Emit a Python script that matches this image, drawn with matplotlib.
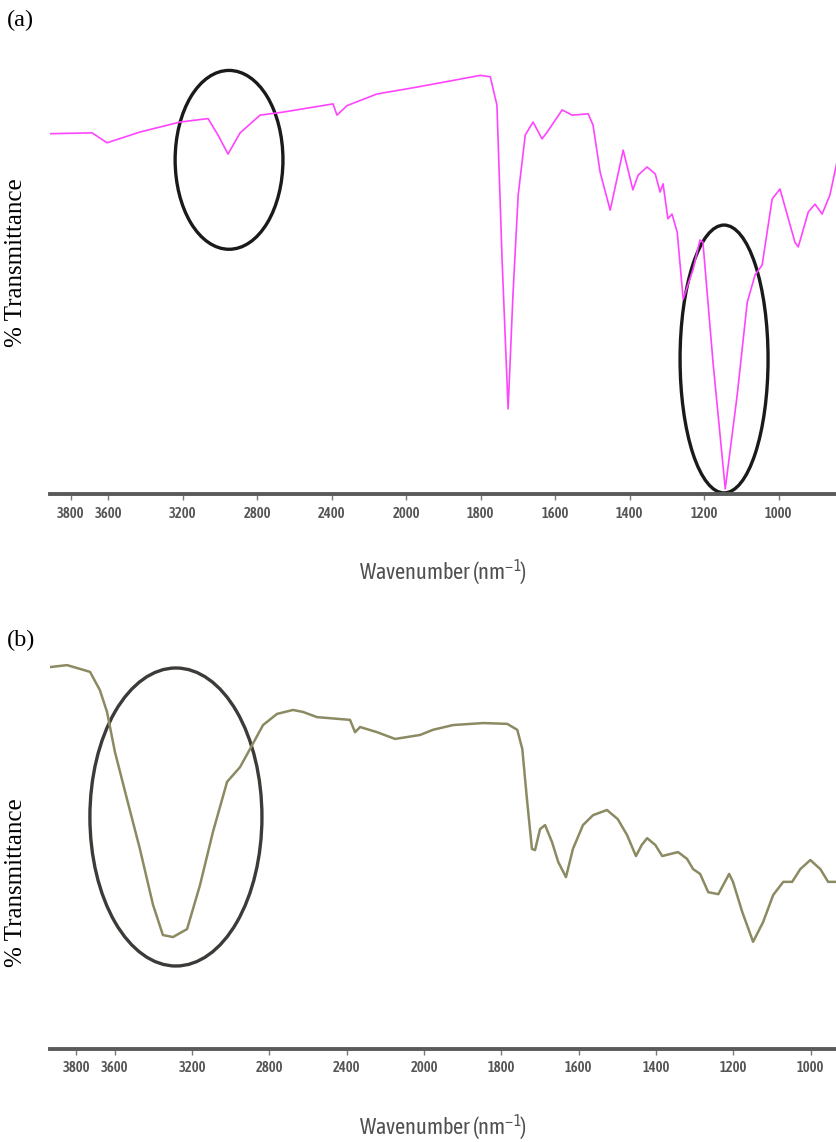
import numpy as np
import matplotlib
matplotlib.use("Agg")
import matplotlib.pyplot as plt
from matplotlib.patches import Ellipse

plt.rcParams["mathtext.fontset"] = "custom"
plt.rcParams["mathtext.rm"] = "Asap Condensed"
plt.rcParams["mathtext.it"] = "Asap Condensed"
plt.rcParams["mathtext.bf"] = "Asap Condensed"

# ---------------- data ----------------
wn_a = [3912, 3686, 3606, 3428, 3214, 3063, 3010, 2956, 2891, 2784, 2661, 2392, 2371, 2317,
        2156, 1970, 1801, 1774, 1756, 1742, 1726, 1713, 1699, 1680, 1659, 1635, 1621, 1581,
        1554, 1511, 1498, 1479, 1452, 1417, 1391, 1377, 1353, 1331, 1318, 1310, 1297, 1286,
        1272, 1256, 1229, 1211, 1203, 1176, 1143, 1111, 1084, 1063, 1044, 1017, 996, 956,
        947, 920, 902, 883, 862, 843]
t_a = [83.4, 83.6, 81.3, 83.8, 86.1, 86.9, 83.1, 78.7, 83.6, 87.7, 88.4, 90.3, 87.7, 89.9,
       92.6, 94.2, 96.9, 96.6, 90.0, 53.7, 19.7, 46.1, 69.2, 83.1, 86.1, 82.2, 83.8, 88.9,
       87.7, 88.0, 85.4, 74.5, 65.7, 79.6, 70.4, 73.8, 75.7, 74.1, 69.9, 71.8, 63.7, 64.8,
       60.6, 45.1, 52.1, 58.8, 58.3, 30.6, 1.2, 22.9, 44.4, 50.7, 53.0, 68.3, 70.6, 58.3,
       57.2, 65.3, 67.1, 64.8, 69.2, 76.9]

wn_b = [3935, 3847, 3728, 3677, 3640, 3599, 3537, 3470, 3402, 3351, 3299, 3226, 3159, 3092,
        3019, 2952, 2900, 2833, 2761, 2678, 2626, 2554, 2383, 2357, 2331, 2243, 2150, 2021,
        1977, 1925, 1847, 1785, 1759, 1746, 1734, 1721, 1713, 1700, 1687, 1669, 1653, 1633,
        1615, 1589, 1563, 1527, 1499, 1475, 1452, 1437, 1423, 1402, 1384, 1364, 1343, 1320,
        1304, 1286, 1265, 1239, 1211, 1201, 1177, 1149, 1123, 1097, 1071, 1048, 1027, 1001,
        975, 955, 932]
t_b = [96.2, 96.7, 95.0, 90.4, 84.9, 74.8, 63.0, 50.4, 36.3, 28.7, 28.2, 30.2, 41.3, 54.7,
       67.3, 71.0, 75.6, 81.6, 84.4, 85.4, 84.9, 83.6, 82.9, 79.8, 81.1, 79.8, 78.1, 79.1,
       80.4, 81.6, 82.1, 81.9, 80.4, 75.6, 63.0, 50.4, 50.1, 55.4, 56.4, 52.1, 47.1, 43.3,
       50.4, 56.4, 58.9, 60.2, 57.9, 53.9, 48.6, 51.4, 53.1, 51.4, 48.6, 49.1, 49.6, 47.9,
       45.3, 44.1, 39.5, 39.0, 44.1, 42.1, 34.5, 27.0, 32.0, 38.8, 42.1, 42.1, 45.3, 47.6,
       45.3, 42.1, 42.1]

tick_vals = [3800, 3600, 3200, 2800, 2400, 2000, 1800, 1600, 1400, 1200, 1000]
tick_labels = ["3800", "3600", "3200", "2800", "2400", "2000", "1800", "1600", "1400", "1200", "1000"]


# piecewise wavenumber scale (half scale above 2000)
def fwd(x):
    x = np.asarray(x, dtype=float)
    return np.where(x > 2000, 2000 + (x - 2000) / 2.0, x)


def inv(u):
    u = np.asarray(u, dtype=float)
    return np.where(u > 2000, 2000 + (u - 2000) * 2.0, u)


W, H = 837, 1142
fig = plt.figure(figsize=(W / 100, H / 100), dpi=100)

cond = ["Asap Condensed", "DejaVu Sans"]
serif = ["Liberation Serif", "DejaVu Serif"]


def px_ax(left, right, top, bottom):
    return [left / W, (H - bottom) / H, (right - left) / W, (bottom - top) / H]


def setup(ax, xlim, ylab_y):
    ax.set_xscale("function", functions=(fwd, inv))
    ax.set_xlim(*xlim)
    ax.set_ylim(0, 100)
    for s in ["top", "right", "left"]:
        ax.spines[s].set_visible(False)
    ax.spines["bottom"].set_color("#5a5a5a")
    ax.spines["bottom"].set_linewidth(2.8)
    ax.set_yticks([])
    ax.set_xticks(tick_vals)
    ax.set_xticklabels(tick_labels)
    ax.minorticks_off()
    ax.tick_params(axis="x", direction="out", length=4, width=1, color="#777777",
                   labelcolor="#555555", labelsize=10.5, pad=5)
    for lab in ax.get_xticklabels():
        lab.set_family(cond)
        lab.set_weight("semibold")
    ax.set_xlabel("Wavenumber (nm$^{-1}$)", family=cond, fontsize=16,
                  color="#505050", labelpad=27)
    fig.text(16 / W, 1 - ylab_y / H, "% Transmittance", rotation=90, family=serif,
             fontsize=18, ha="center", va="center", color="black")


# ---- panel (a)
ax1 = fig.add_axes(px_ax(50, 837, 62, 494))
ax1.plot(wn_a, t_a, color="#ff44ff", lw=1.2)
setup(ax1, (3912, 843), 263)
ax1.add_patch(Ellipse((0.2275, 0.7735), 0.137, 0.414, transform=ax1.transAxes,
                      fill=False, ec="#1a1a1a", lw=2.4, clip_on=False))
ax1.add_patch(Ellipse((0.8565, 0.3125), 0.1118, 0.620, transform=ax1.transAxes,
                      fill=False, ec="#1a1a1a", lw=2.4, clip_on=False))
fig.text(7 / W, 1 - 20 / H, "(a)", family=serif, fontsize=17.5, ha="left", va="center")

# ---- panel (b)
ax2 = fig.add_axes(px_ax(50, 837, 652, 1049))
ax2.plot(wn_b, t_b, color="#8c8a62", lw=1.8)
setup(ax2, (3935, 932), 883)
ax2.add_patch(Ellipse((0.160, 0.5844), 0.2186, 0.7506, transform=ax2.transAxes,
                      fill=False, ec="#3d3b38", lw=2.4, clip_on=False))
fig.text(7 / W, 1 - 640 / H, "(b)", family=serif, fontsize=17.5, ha="left", va="center")

fig.savefig("out.png", dpi=100)
